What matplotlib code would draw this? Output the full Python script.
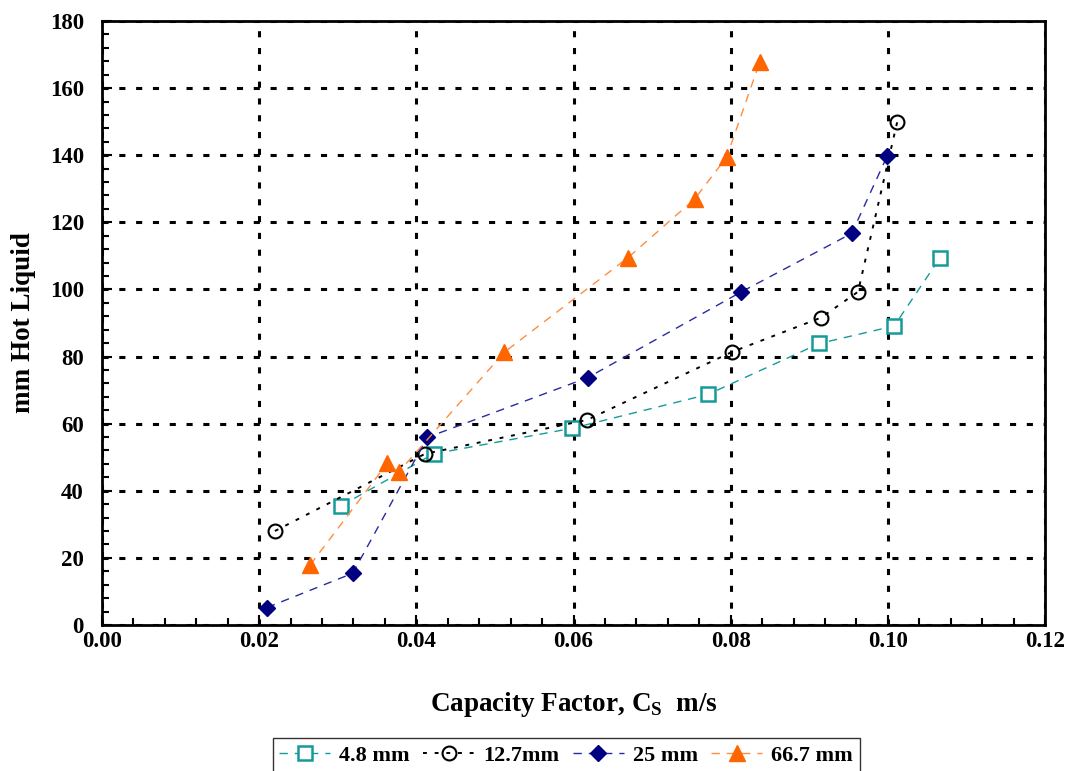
import matplotlib
matplotlib.use('Agg')
import matplotlib.pyplot as plt
from matplotlib.ticker import MultipleLocator

plt.rcParams['font.family'] = ['Liberation Serif', 'DejaVu Serif']
plt.rcParams['font.weight'] = 'bold'
plt.rcParams['mathtext.fontset'] = 'custom'
plt.rcParams['mathtext.rm'] = 'Liberation Serif:bold'
plt.rcParams['mathtext.bf'] = 'Liberation Serif:bold'

# data
x_48 = [0.0304, 0.0422, 0.0598, 0.0771, 0.0913, 0.1008, 0.1066]
y_48 = [35.5, 51.0, 58.6, 68.7, 83.9, 89.1, 109.3]

x_127 = [0.0220, 0.0411, 0.0617, 0.0802, 0.0915, 0.0962, 0.1012]
y_127 = [28.0, 51.0, 61.1, 81.4, 91.6, 99.3, 150.0]

x_25 = [0.0210, 0.0319, 0.0414, 0.0618, 0.0813, 0.0954, 0.0999]
y_25 = [5.2, 15.4, 55.9, 73.7, 99.2, 116.7, 139.7]

x_667 = [0.0265, 0.0363, 0.0378, 0.0512, 0.0669, 0.0754, 0.0795, 0.0837]
y_667 = [17.9, 48.2, 45.7, 81.3, 109.4, 126.9, 139.5, 167.8]

labels = ['4.8 mm', '12.7mm', '25 mm', '66.7 mm']

fig = plt.figure(figsize=(10.68, 7.71), dpi=100)
ax = fig.add_axes([0.0955, 0.1894, 0.8830, 0.7834])

ax.plot(x_48, y_48, linestyle=(0, (6, 5)), color='#159a9a', lw=1,
        marker='s', ms=10, mfc='white', mec='#159a9a', mew=1.8, label=labels[0])
ax.plot(x_127, y_127, linestyle=(0, (2, 4)), color='black', lw=1.4,
        marker='o', ms=10, mfc='none', mec='black', mew=1.5, label=labels[1])
ax.plot(x_25, y_25, linestyle=(0, (6, 5)), color='#2a2aa0', lw=1,
        marker='D', ms=8, mfc='#000080', mec='#000080', label=labels[2])
ax.plot(x_667, y_667, linestyle=(0, (6, 5)), color='#ff8c40', lw=1,
        marker='^', ms=11, mfc='#ff6600', mec='#ff6600', label=labels[3])

ax.set_xlim(0, 0.12)
ax.set_ylim(0, 180)
ax.xaxis.set_major_locator(MultipleLocator(0.02))
ax.xaxis.set_minor_locator(MultipleLocator(0.004))
ax.yaxis.set_major_locator(MultipleLocator(20))
ax.yaxis.set_minor_locator(MultipleLocator(4))
ax.xaxis.set_major_formatter(plt.FuncFormatter(lambda v, p: f'{v:.2f}'))

ax.grid(True, which='major', color='black', linestyle=(0, (2, 3.5)), lw=2.2)
ax.set_axisbelow(True)
for s in ax.spines.values():
    s.set_linewidth(2)

ax.tick_params(which='both', direction='in', labelsize=16.5, width=1.5)
ax.tick_params(which='major', length=7)
ax.tick_params(which='minor', length=5)
ax.tick_params(axis='x', pad=4)
ax.tick_params(axis='y', pad=13)
for t in ax.get_xticklabels() + ax.get_yticklabels():
    t.set_fontweight('bold')

ax.set_xlabel(r'Capacity Factor, C$_\mathbf{S}$  m/s', fontsize=19.5,
              fontweight='bold', labelpad=28)
ax.set_ylabel('mm Hot Liquid', fontsize=19.5, fontweight='bold', labelpad=10)

leg = fig.legend(loc='lower center', bbox_to_anchor=(0.53, -0.016), ncol=4,
                 frameon=True, fancybox=False, edgecolor='black',
                 handlelength=2.3, columnspacing=0.6, handletextpad=0.4,
                 borderpad=0.3, prop={'weight': 'bold', 'size': 16})
leg.get_frame().set_linewidth(1)

fig.savefig('out.png', dpi=100)
